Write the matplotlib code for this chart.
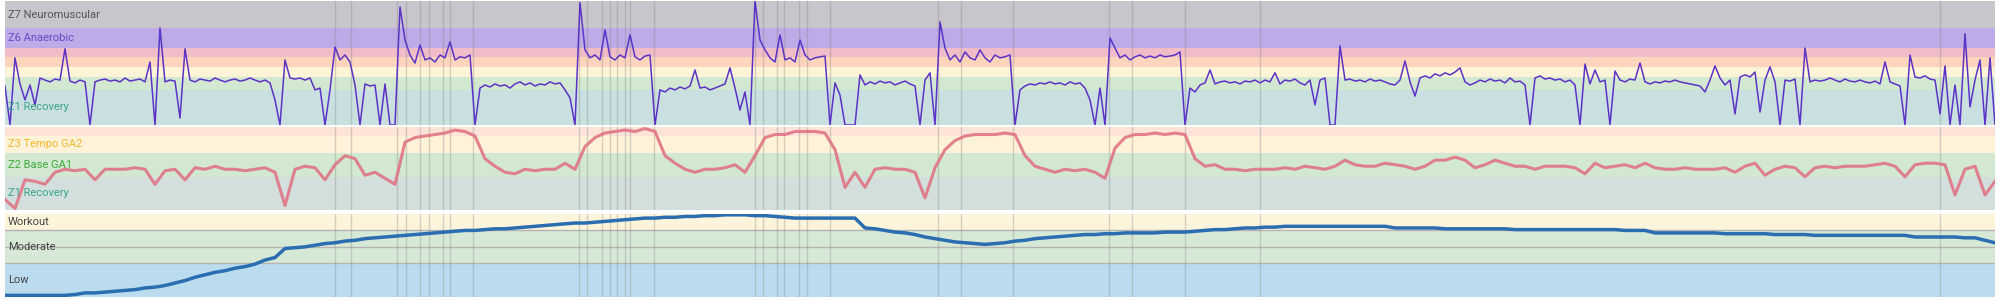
import matplotlib
matplotlib.use("Agg")
import matplotlib.pyplot as plt
import numpy as np

plt.rcParams['font.family'] = ['Roboto', 'DejaVu Sans']

# power (W), one sample every 0.5 min
power = [
    151, 0, 260, 159, 97, 155, 78, 182, 174, 167, 178, 174, 295, 170, 163, 174, 167, 0, 167, 174,
    178, 170, 174, 167, 182, 170, 174, 178, 167, 244, 0, 376, 167, 174, 170, 27, 295, 174, 167, 178,
    174, 170, 182, 174, 167, 174, 178, 170, 174, 182, 174, 167, 174, 163, 97, 0, 252, 182, 178, 182,
    174, 182, 136, 143, 0, 136, 302, 252, 271, 244, 155, 0, 159, 151, 155, 0, 159, 0, 0, 457,
    329, 271, 240, 310, 252, 260, 244, 271, 260, 322, 252, 264, 260, 271, 0, 143, 155, 147, 159, 151,
    155, 143, 159, 167, 155, 163, 151, 159, 155, 167, 159, 163, 136, 105, 0, 473, 291, 260, 271, 252,
    368, 264, 252, 271, 260, 349, 264, 252, 267, 271, 0, 136, 128, 143, 136, 147, 140, 151, 213, 143,
    147, 136, 143, 151, 159, 221, 143, 58, 128, 0, 480, 329, 291, 260, 244, 349, 252, 260, 244, 329,
    271, 252, 260, 264, 267, 0, 163, 116, 0, 0, 0, 194, 155, 167, 159, 170, 163, 167, 155, 163,
    170, 159, 151, 0, 174, 202, 0, 399, 298, 252, 271, 244, 283, 260, 252, 291, 260, 244, 271, 260,
    264, 271, 0, 136, 151, 159, 155, 163, 159, 167, 159, 163, 155, 167, 159, 163, 143, 97, 0, 143,
    0, 337, 298, 260, 271, 252, 264, 271, 260, 267, 260, 271, 264, 267, 271, 283, 0, 143, 128, 155,
    163, 213, 159, 167, 170, 163, 167, 159, 170, 167, 174, 163, 174, 167, 202, 159, 174, 170, 178, 163,
    155, 174, 78, 174, 182, 0, 0, 306, 174, 178, 170, 174, 167, 178, 170, 174, 167, 159, 155, 174,
    248, 167, 112, 182, 190, 182, 198, 190, 202, 194, 205, 221, 167, 155, 163, 174, 167, 178, 170, 174,
    163, 182, 167, 170, 155, 0, 182, 190, 178, 182, 174, 178, 167, 174, 155, 0, 236, 159, 213, 167,
    174, 0, 209, 174, 167, 178, 174, 240, 167, 159, 167, 163, 170, 167, 174, 167, 163, 159, 155, 151,
    128, 174, 229, 182, 155, 174, 43, 186, 194, 186, 205, 50, 174, 225, 167, 0, 174, 170, 178, 0,
    298, 167, 174, 170, 174, 182, 174, 167, 178, 170, 167, 174, 167, 163, 170, 159, 244, 167, 159, 151,
    0, 271, 186, 182, 190, 178, 174, 43, 229, 0, 155, 0, 353, 70, 174, 252, 0, 260, 0,
]

# heart rate (bpm), one sample per minute
heart_rate = [
    113, 107, 126, 125, 123, 131, 133, 132, 133, 126, 133, 133, 133, 134, 133, 123, 132, 133, 126, 134,
    133, 135, 133, 133, 132, 133, 134, 131, 109, 133, 135, 134, 126, 136, 142, 140, 129, 131, 127, 123,
    151, 154, 155, 156, 157, 159, 158, 155, 140, 135, 131, 130, 133, 132, 133, 133, 137, 133, 148, 154,
    157, 158, 159, 158, 160, 158, 142, 137, 133, 131, 133, 133, 134, 136, 131, 142, 154, 156, 156, 158,
    158, 158, 157, 146, 121, 131, 121, 133, 134, 133, 133, 131, 114, 134, 146, 152, 155, 156, 156, 156,
    157, 156, 142, 135, 133, 131, 133, 132, 133, 131, 127, 147, 154, 156, 156, 157, 156, 157, 156, 140,
    135, 136, 133, 133, 132, 133, 133, 133, 134, 133, 135, 134, 133, 135, 139, 136, 135, 135, 137, 136,
    135, 133, 135, 139, 139, 141, 139, 134, 136, 139, 137, 135, 135, 133, 135, 135, 135, 134, 130, 137,
    134, 135, 136, 134, 137, 134, 133, 133, 134, 133, 133, 133, 134, 131, 135, 137, 129, 133, 135, 134,
    128, 134, 135, 134, 135, 135, 135, 136, 137, 135, 128, 136, 137, 137, 136, 116, 133, 135, 116, 125,
]

# training load, one sample per minute
load = [
    2, 2, 2, 2, 2, 2, 2, 3, 5, 5, 6, 7, 8, 9, 11, 12, 14, 17, 20, 24,
    27, 30, 32, 35, 37, 40, 45, 48, 59, 60, 61, 63, 65, 66, 68, 69, 71, 72, 73, 74,
    75, 76, 77, 78, 79, 80, 81, 81, 82, 83, 83, 84, 85, 86, 87, 88, 89, 90, 90, 91,
    92, 93, 94, 95, 96, 96, 97, 97, 98, 98, 99, 99, 100, 100, 100, 99, 99, 98, 97, 96,
    96, 96, 96, 96, 96, 96, 84, 83, 81, 79, 78, 76, 73, 71, 69, 67, 66, 65, 64, 65,
    66, 68, 69, 71, 72, 73, 74, 75, 76, 76, 77, 77, 78, 78, 78, 78, 79, 79, 79, 80,
    81, 82, 82, 83, 84, 84, 85, 85, 86, 86, 86, 86, 86, 86, 86, 86, 86, 86, 86, 84,
    84, 84, 84, 84, 83, 83, 83, 83, 83, 83, 83, 82, 82, 82, 82, 82, 82, 82, 82, 82,
    82, 82, 81, 81, 81, 78, 78, 78, 78, 78, 78, 78, 77, 77, 77, 77, 77, 76, 76, 76,
    76, 75, 75, 75, 75, 75, 75, 75, 75, 75, 75, 73, 73, 73, 73, 73, 72, 72, 69, 66,
]

# lap markers (min)
laps = [33.0, 34.6, 39.2, 40.1, 41.5, 42.4, 43.8, 44.5, 46.8, 57.4, 58.2, 59.7, 60.5,
        61.2, 62.0, 62.5, 64.9, 75.0, 75.8, 77.2, 77.9, 79.4, 80.2, 82.5, 93.3, 95.6,
        100.8, 110.4, 112.7, 118.0, 125.5, 193.5]

# zones: (low, high, colour, label, label colour)
power_zones = [
    (0, 137, '#c9dfe0', 'Z1 Recovery', '#3aa58a'),
    (137, 187, '#d2e8d0', None, None),
    (187, 225, '#fdf3d6', None, None),
    (225, 262, '#fdd5bd', None, None),
    (262, 300, '#f0bcc8', None, None),
    (300, 375, '#bdaae6', 'Z6 Anaerobic', '#6a48c8'),
    (375, 480, '#c8c5cc', 'Z7 Neuromuscular', '#555555'),
]
hr_zones = [
    (106, 128, '#d2dfdd', 'Z1 Recovery', '#3aa58a'),
    (128, 144, '#d2e8d0', 'Z2 Base GA1', '#3cab3c'),
    (144, 155, '#fef2d8', 'Z3 Tempo GA2', '#f5b82e'),
    (155, 161, '#fde3d8', None, None),
]
load_zones = [
    (0, 41, '#bbdcef', 'Low', '#444444'),
    (41, 81, '#d6e9d6', 'Moderate', '#444444'),
    (81, 101, '#fdf4dc', 'Workout', '#444444'),
]

t_power = np.arange(len(power)) * 0.5
t_min = np.arange(len(heart_rate)) * 1.0

fig = plt.figure(figsize=(20, 3), dpi=100)
ax1 = fig.add_axes([0.0025, 0.5833, 0.995, 0.4133])
ax2 = fig.add_axes([0.0025, 0.30, 0.995, 0.2767])
ax3 = fig.add_axes([0.0025, 0.01, 0.995, 0.2767])


def draw_zones(ax, zones):
    for lo, hi, col, lab, lcol in zones:
        ax.axhspan(lo, hi, color=col, lw=0, zorder=0)
        if lab:
            ax.text(0.3, (lo + hi) / 2, lab, color=lcol, fontsize=8,
                    va='center', ha='left', zorder=5)
    ax.set_ylim(zones[0][0], zones[-1][1])


draw_zones(ax1, power_zones)
ax1.plot(t_power, power, color='#5b33c6', lw=1.1, zorder=3)

draw_zones(ax2, hr_zones)
ax2.plot(t_min, heart_rate, color='#e07585', lw=2.2, alpha=0.9, zorder=3)

draw_zones(ax3, load_zones)
for yv in [41, 61, 81]:
    ax3.axhline(yv, color='#b4b4b4', lw=1, zorder=1)
ax3.plot(t_min, load, color='#2a6db0', lw=2.5, zorder=3)

for ax in (ax1, ax2, ax3):
    for lp in laps:
        ax.axvline(lp, color='#888888', alpha=0.35, lw=1, zorder=2)
    ax.set_xlim(0, 199)
    ax.set_xticks([])
    ax.set_yticks([])
    for s in ax.spines.values():
        s.set_visible(False)

plt.savefig('out.png', dpi=100)
